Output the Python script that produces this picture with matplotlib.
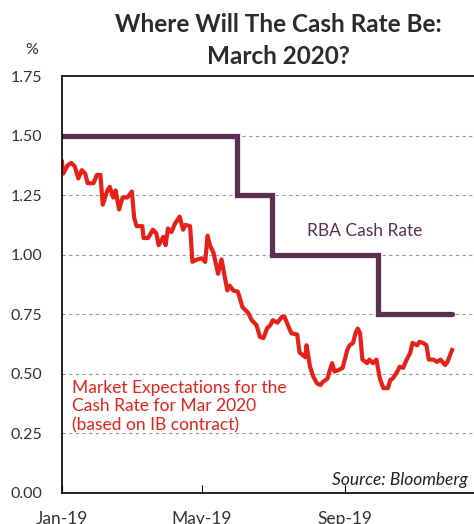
import numpy as np
import pandas as pd
from matplotlib import pyplot as plt

plt.rcParams['font.family'] = ['Lato', 'DejaVu Sans']

# RBA cash rate (step changes)
rba_dates = ['2019-01-01', '2019-05-31', '2019-06-30', '2019-09-29', '2019-12-02']
rba_rate = [1.50, 1.25, 1.00, 0.75, 0.75]

# market expectations, days since 1 Jan 2019
mkt_days = [0, 1, 5, 8, 11, 14, 17, 20, 22, 27, 30, 33, 35, 39, 41, 44, 46, 49, 52, 56,
            60, 62, 64, 69, 70, 74, 78, 81, 83, 87, 89, 91, 94, 97, 99, 101, 104, 106, 110, 112,
            116, 120, 123, 125, 127, 130, 134, 137, 142, 144, 147, 151, 155, 160, 163, 167, 170, 173, 176, 179,
            181, 185, 189, 191, 194, 197, 202, 204, 209, 210, 213, 216, 219, 222, 224, 228, 230, 232, 234, 237,
            241, 245, 247, 250, 252, 254, 256, 258, 262, 264, 267, 270, 273, 276, 280, 282, 284, 288, 290, 293,
            296, 299, 301, 305, 307, 310, 313, 315, 319, 322, 325, 329, 331, 335]
mkt_rate = [1.39, 1.34, 1.376, 1.385, 1.37, 1.32, 1.355, 1.34, 1.30, 1.30, 1.335, 1.335, 1.21, 1.27, 1.285, 1.24, 1.27, 1.19, 1.24, 1.24,
            1.265, 1.155, 1.12, 1.12, 1.07, 1.07, 1.105, 1.09, 1.04, 1.075, 1.04, 1.11, 1.095, 1.13, 1.145, 1.16, 1.105, 1.125, 1.12, 0.97,
            0.98, 0.985, 0.97, 1.08, 1.04, 1.01, 0.92, 0.98, 0.85, 0.87, 0.85, 0.845, 0.78, 0.755, 0.725, 0.705, 0.655, 0.65, 0.69, 0.705,
            0.725, 0.715, 0.74, 0.74, 0.705, 0.67, 0.665, 0.59, 0.57, 0.62, 0.53, 0.487, 0.46, 0.453, 0.466, 0.48, 0.515, 0.545, 0.51, 0.515,
            0.525, 0.60, 0.62, 0.63, 0.67, 0.69, 0.67, 0.56, 0.545, 0.56, 0.545, 0.56, 0.48, 0.44, 0.44, 0.475, 0.48, 0.51, 0.53, 0.525,
            0.56, 0.587, 0.63, 0.62, 0.634, 0.63, 0.62, 0.56, 0.56, 0.55, 0.56, 0.537, 0.55, 0.60]

y_ticks = [0.00, 0.25, 0.50, 0.75, 1.00, 1.25, 1.50, 1.75]
x_ticks = ['2019-01-01', '2019-05-01', '2019-09-01']
x_labels = ['Jan-19', 'May-19', 'Sep-19']

purple = '#59304f'
red = '#e8201a'
grey = '#333333'

fig = plt.figure(figsize=(4.74, 5.24), dpi=100)
ax = fig.add_axes([62 / 474, 31 / 524, 425 / 474, 417 / 524])

start = pd.Timestamp('2019-01-01')
mkt_dates = start + pd.to_timedelta(mkt_days, unit='D')

ax.step(pd.to_datetime(rba_dates), rba_rate, where='post', color=purple, linewidth=3.8,
        solid_joinstyle='miter', solid_capstyle='round')
ax.plot(mkt_dates, mkt_rate, color=red, linewidth=3.0)

ax.set_xlim(pd.Timestamp('2019-01-01'), pd.Timestamp('2020-01-01'))
ax.set_ylim(0, 1.75)
ax.set_yticks(y_ticks)
ax.set_yticklabels(['%.2f' % v for v in y_ticks])
ax.set_xticks(pd.to_datetime(x_ticks))
ax.set_xticklabels(x_labels)

for v in y_ticks[1:-1]:
    ax.axhline(v, color='#9a9a9a', linestyle=(0, (3, 3)), linewidth=0.8, zorder=0)

ax.tick_params(axis='y', length=0, pad=14, labelsize=11.5, labelcolor=grey)
ax.tick_params(axis='x', direction='in', length=6, pad=13, labelsize=12.5, labelcolor=grey, color='black')
for s in ['left', 'bottom', 'top']:
    ax.spines[s].set_linewidth(1.2)
    ax.spines[s].set_color('black')
ax.spines['right'].set_visible(False)

ax.text(pd.Timestamp('2019-09-18'), 1.10, 'RBA Cash Rate', color=purple, fontsize=12.5,
        ha='center', va='center')
ax.text(pd.Timestamp('2019-01-10'), 0.475, 'Market Expectations for the\nCash Rate for Mar 2020\n(based on IB contract)',
        color=red, fontsize=12.5, ha='left', va='top', linespacing=1.2)
fig.text(332 / 474, 1 - 480 / 524, 'Source: Bloomberg', fontsize=12.5, style='italic', color='#222222',
         ha='left', va='center')

fig.text(278 / 474, 1 - 25 / 524, 'Where Will The Cash Rate Be:', fontsize=17.5, fontweight='bold',
         color='#2b2b2b', ha='center', va='center')
fig.text(278 / 474, 1 - 57 / 524, 'March 2020?', fontsize=17.5, fontweight='bold',
         color='#2b2b2b', ha='center', va='center')
fig.text(32 / 474, 1 - 50 / 524, '%', fontsize=11.5, color=grey, ha='center', va='center')

plt.savefig('out.png', dpi=100)
plt.close()
